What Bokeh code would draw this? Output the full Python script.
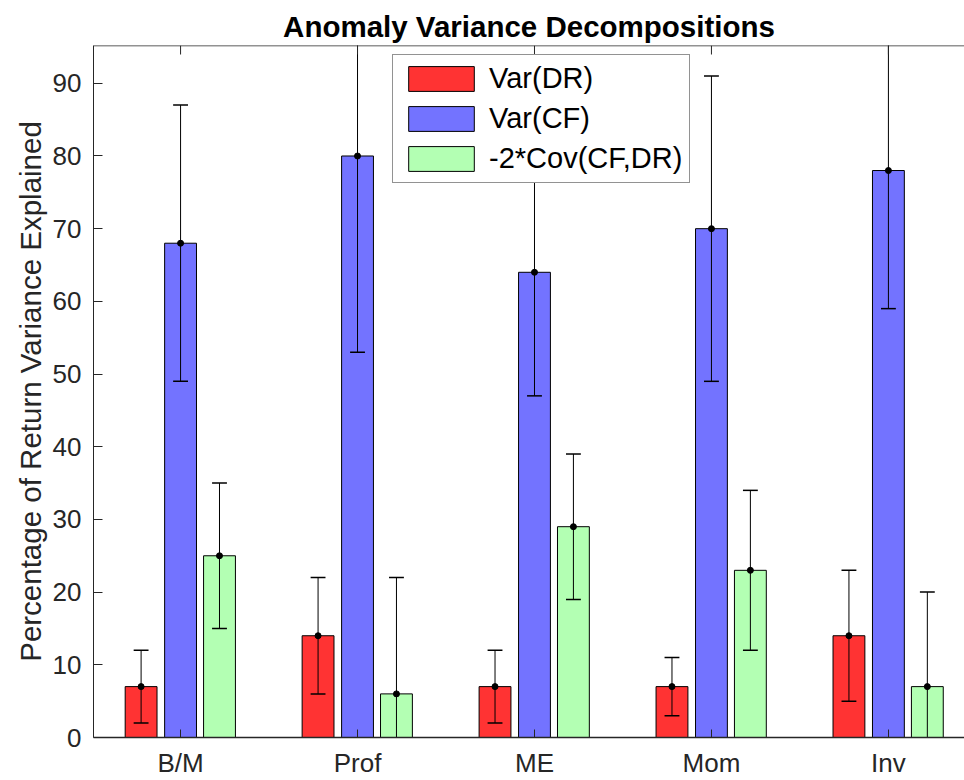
from bokeh.plotting import figure
from bokeh.models import (FixedTicker, Range1d, Legend, LegendItem,
                          ColumnDataSource, Span)
from bokeh.embed import file_html
from bokeh.resources import INLINE

# ---- data ----
categories = ["B/M", "Prof", "ME", "Mom", "Inv"]
series_names = ["Var(DR)", "Var(CF)", "-2*Cov(CF,DR)"]
var_dr = [7, 14, 7, 7, 14]
var_dr_err = [5, 8, 5, 4, 9]
var_cf = [68, 80, 64, 70, 78]
var_cf_err = [19, 27, 17, 21, 19]
cov_term = [25, 6, 29, 23, 7]
cov_term_err = [10, 16, 10, 11, 13]
y_ticks = [0, 10, 20, 30, 40, 50, 60, 70, 80, 90]

values = [var_dr, var_cf, cov_term]
errors = [var_dr_err, var_cf_err, cov_term_err]

# ---- style ----
colors = ["#FF3333", "#7373FF", "#B3FFB3"]
offsets = [-0.223, 0.0, 0.22]
bar_w = 0.18
cap = 0.042
FONT = "Liberation Sans"
AX = "#262626"
Y_MAX = 95.2
FRAME_H = 692

p = figure(width=964, height=780,
           x_range=Range1d(0.508, 5.43), y_range=Range1d(0, Y_MAX),
           output_backend="svg", toolbar_location=None,
           min_border_left=93, min_border_right=0,
           min_border_top=45, min_border_bottom=41)
p.outline_line_color = None
p.xgrid.visible = False
p.ygrid.visible = False
p.background_fill_color = "white"
p.border_fill_color = "white"

renderers = []
for i in range(3):
    xs = [k + 1 + offsets[i] for k in range(len(categories))]
    lo = [v - e for v, e in zip(values[i], errors[i])]
    hi = [v + e for v, e in zip(values[i], errors[i])]
    src = ColumnDataSource(dict(x=xs, top=values[i], lo=lo, hi=hi,
                                xl=[x - cap for x in xs], xr=[x + cap for x in xs]))
    r = p.vbar(x="x", top="top", width=bar_w, bottom=0, source=src,
               fill_color=colors[i], line_color="black", line_width=1)
    renderers.append(r)
    p.segment(x0="x", y0="lo", x1="x", y1="hi", source=src, line_color="black", line_width=1)
    p.segment(x0="xl", y0="lo", x1="xr", y1="lo", source=src, line_color="black", line_width=1.5)
    p.segment(x0="xl", y0="hi", x1="xr", y1="hi", source=src, line_color="black", line_width=1.5)
    p.scatter(x="x", y="top", source=src, size=6, color="black")

# ---- axes ----
cat_ticks = list(range(1, len(categories) + 1))
xa = p.xaxis[0]
xa.ticker = FixedTicker(ticks=cat_ticks)
xa.major_label_overrides = {t: c for t, c in zip(cat_ticks, categories)}
xa.major_tick_in = 8
xa.major_tick_out = 0
xa.minor_tick_line_color = None
xa.axis_line_color = AX
xa.axis_line_width = 1.5
xa.major_tick_line_color = AX
xa.major_label_text_font = FONT
xa.major_label_text_font_size = "26px"
xa.major_label_text_color = AX
xa.major_label_standoff = 10

ya = p.yaxis[0]
ya.ticker = FixedTicker(ticks=y_ticks)
ya.major_tick_in = 9
ya.major_tick_out = 0
ya.minor_tick_line_color = None
ya.axis_line_color = AX
ya.major_tick_line_color = AX
ya.major_label_text_font = FONT
ya.major_label_text_font_size = "26px"
ya.major_label_text_color = AX
ya.major_label_standoff = 12
ya.axis_label = "Percentage of Return Variance Explained"
ya.axis_label_text_font = FONT
ya.axis_label_text_font_size = "29.5px"
ya.axis_label_text_font_style = "normal"
ya.axis_label_text_color = AX
ya.axis_label_standoff = 3

# top box edge with inward category ticks
p.add_layout(Span(location=Y_MAX, dimension="width", line_color=AX, line_width=1.5))
tick_len = 9 * Y_MAX / FRAME_H
p.segment(x0=cat_ticks, y0=[Y_MAX] * len(cat_ticks), x1=cat_ticks,
          y1=[Y_MAX - tick_len] * len(cat_ticks), line_color=AX, line_width=1)

# ---- title ----
p.title.text = "Anomaly Variance Decompositions"
p.title.align = "center"
p.title.text_font = FONT
p.title.text_font_size = "29.5px"
p.title.text_font_style = "bold"
p.title.text_color = "black"
p.title.standoff = 5
p.title.offset = 5

# ---- legend ----
legend = Legend(items=[LegendItem(label=n, renderers=[r]) for n, r in zip(series_names, renderers)],
                location=(299, 554))
legend.label_text_font = FONT
legend.label_text_font_size = "29px"
legend.label_text_color = "black"
legend.glyph_width = 82
legend.glyph_height = 31
legend.label_height = 31
legend.spacing = 7
legend.padding = 7
legend.margin = 0
legend.label_standoff = 7
legend.border_line_color = AX
legend.border_line_width = 1
legend.background_fill_alpha = 1.0
p.add_layout(legend)

open("out.html", "w").write(file_html(p, INLINE))
